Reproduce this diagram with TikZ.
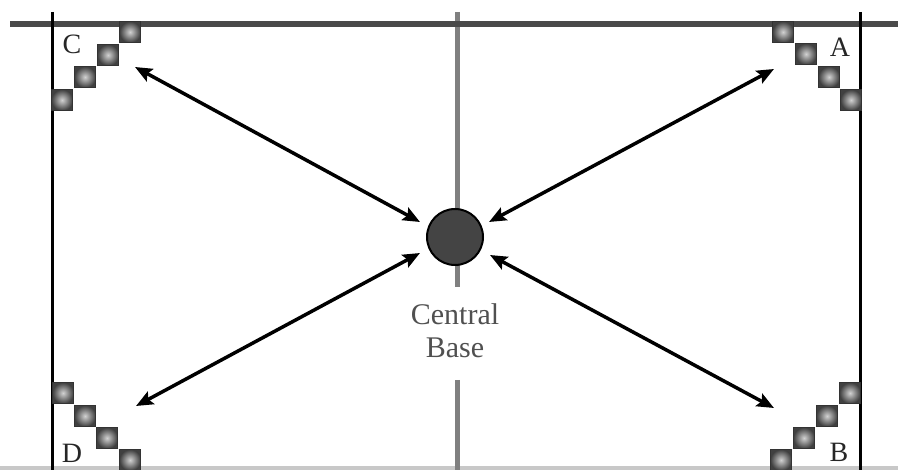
\documentclass[tikz,border=0pt]{standalone}
\usepackage{fontspec}
\setmainfont{Liberation Serif}
\usetikzlibrary{arrows.meta}
\definecolor{topline}{HTML}{4A4A4A}
\definecolor{midline}{HTML}{808080}
\definecolor{botline}{HTML}{C8C8C8}
\definecolor{basefill}{HTML}{444444}
\definecolor{labelgray}{HTML}{505050}
\begin{document}
\begin{tikzpicture}[x=1pt,y=-1pt,
  tile/.style={minimum size=21pt, inner sep=0pt, draw=black!80, line width=1.2pt,
    inner color=gray!35, outer color=black!75},
  cornerlabel/.style={font=\fontsize{28}{30}\selectfont, text=black!85, inner sep=0pt},
  dbl/.style={line width=3.5pt, {Stealth[length=17pt,width=14pt,inset=3pt]}-{Stealth[length=17pt,width=14pt,inset=3pt]}},
  midstroke/.style={line width=5pt, draw=midline},
  sideline/.style={line width=3pt, draw=black}]
\useasboundingbox (0,0) rectangle (898,470);
\fill[white] (0,0) rectangle (898,470);

% frame lines
\coordinate (tl) at (10,24);
\coordinate (tr) at (898,24);
\coordinate (bl) at (0,468);
\coordinate (br) at (898,468);
\coordinate (lt) at (52,12);
\coordinate (lb) at (52,470);
\coordinate (rt) at (860,12);
\coordinate (rb) at (860,470);
\coordinate (mt) at (457,12);
\coordinate (mb) at (457,470);
\coordinate (mlow) at (457,287);
\coordinate (mres) at (457,380);

\draw[line width=4pt, draw=botline] (bl) -- (br);
\draw[midstroke] (mt) -- (457,237);
\draw[midstroke] (457,237) -- (mlow);
\draw[midstroke] (mres) -- (mb);
\draw[line width=6pt, draw=topline] (tl) -- (tr);
\draw[sideline] (lt) -- (lb);
\draw[sideline] (rt) -- (rb);

% central base
\node[circle, minimum size=56pt, inner sep=0pt, fill=basefill, draw=black, line width=2pt] (base) at (455,237) {};
\node[font=\fontsize{30}{33}\selectfont, text=labelgray, align=center, inner sep=0pt] (basetext) at (455,331) {Central\\Base};

% corner tiles
\node[tile] (c1) at (130,32) {};
\node[tile] (c2) at (108,55) {};
\node[tile] (c3) at (85,77) {};
\node[tile] (c4) at (62,100) {};
\node[tile] (a1) at (783,32) {};
\node[tile] (a2) at (806,54) {};
\node[tile] (a3) at (829,77) {};
\node[tile] (a4) at (851,100) {};
\node[tile] (d1) at (63,393) {};
\node[tile] (d2) at (85,416) {};
\node[tile] (d3) at (107,438) {};
\node[tile] (d4) at (130,460) {};
\node[tile] (b1) at (850,393) {};
\node[tile] (b2) at (827,416) {};
\node[tile] (b3) at (804,438) {};
\node[tile] (b4) at (781,460) {};

% corner labels
\node[cornerlabel] (lc) at (72,44) {C};
\node[cornerlabel] (la) at (840,47) {A};
\node[cornerlabel] (ld) at (72,453) {D};
\node[cornerlabel] (lb2) at (839,452) {B};

% arrow ends
\coordinate (ec) at (135,67);
\coordinate (ea) at (774,69);
\coordinate (ed) at (136,406);
\coordinate (eb) at (774,408);
\coordinate (bc) at (420,222);
\coordinate (ba) at (489,222);
\coordinate (bd) at (420,253);
\coordinate (bb) at (490,255);

\draw[dbl] (ec) -- (bc);
\draw[dbl] (ea) -- (ba);
\draw[dbl] (ed) -- (bd);
\draw[dbl] (eb) -- (bb);
\end{tikzpicture}
\end{document}
